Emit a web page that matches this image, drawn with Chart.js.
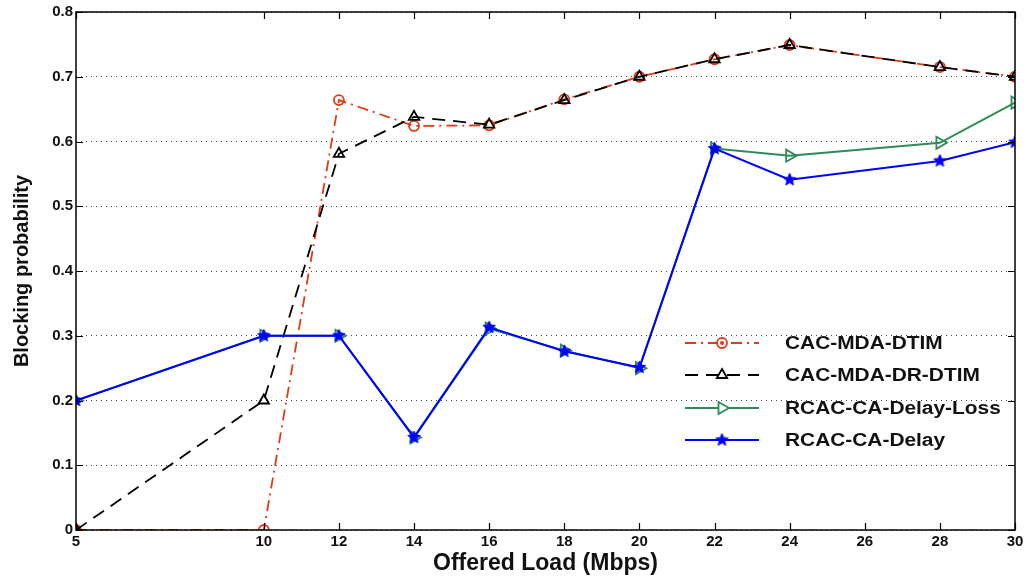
<!DOCTYPE html>
<html>
<head>
<meta charset="utf-8">
<script src="https://cdn.jsdelivr.net/npm/chart.js@4.4.0/dist/chart.umd.min.js"></script>
<style>
  html, body { margin: 0; padding: 0; background: #fff; }
  #wrap { width: 1030px; height: 578px; }
</style>
</head>
<body>
<div id="wrap"><canvas id="blocking-chart"></canvas></div>
<script>
// Blocking probability vs offered load

const offeredLoad   = [5, 10, 12, 14, 16, 18, 20, 22, 24, 28, 30];
const xTickValues   = [5, 10, 12, 14, 16, 18, 20, 22, 24, 26, 28, 30];
const yTickValues   = [0, 0.1, 0.2, 0.3, 0.4, 0.5, 0.6, 0.7, 0.8];

const cacMdaDtim      = [0, 0, 0.664, 0.624, 0.625, 0.665, 0.700, 0.727, 0.749, 0.715, 0.700];
const cacMdaDrDtim    = [0, 0.200, 0.581, 0.638, 0.626, 0.664, 0.700, 0.727, 0.749, 0.715, 0.700];
const rcacDelayLoss   = [0.200, 0.300, 0.300, 0.143, 0.311, 0.277, 0.250, 0.589, 0.578, 0.598, 0.660];
const rcacDelay       = [0.200, 0.300, 0.300, 0.143, 0.313, 0.276, 0.251, 0.589, 0.541, 0.570, 0.599];

const seriesNames = ['CAC-MDA-DTIM', 'CAC-MDA-DR-DTIM', 'RCAC-CA-Delay-Loss', 'RCAC-CA-Delay'];

const RED = '#e03a16', GREEN = '#2e8b57', BLUE = '#0000ff';
const FONT = '"Liberation Sans", Arial, Helvetica, sans-serif';

// filled five-point star for the blue series
function starImage(color, r) {
    const c = document.createElement('canvas');
    const s = Math.ceil(r * 2 + 2);
    c.width = s; c.height = s;
    const g = c.getContext('2d');
    g.beginPath();
    for (let i = 0; i < 10; i++) {
        const rad = i % 2 === 0 ? r : r * 0.45;
        const a = -Math.PI / 2 + i * Math.PI / 5;
        const px = s / 2 + rad * Math.cos(a), py = s / 2 + rad * Math.sin(a);
        if (i === 0) g.moveTo(px, py); else g.lineTo(px, py);
    }
    g.closePath();
    g.fillStyle = color;
    g.fill();
    g.strokeStyle = color;
    g.lineWidth = 1;
    g.stroke();
    return c;
}
const star = starImage(BLUE, 6.5);

const toPoints = arr => arr.map((v, i) => ({ x: offeredLoad[i], y: v }));

const datasets = [
    {
        label: seriesNames[0], data: toPoints(cacMdaDtim),
        borderColor: RED, backgroundColor: 'transparent', borderWidth: 1.8,
        borderDash: [11, 5, 2, 5], pointStyle: 'circle', pointRadius: 5,
        pointBorderWidth: 1.8, pointBorderColor: RED, pointBackgroundColor: 'transparent', order: 4
    },
    {
        label: seriesNames[1], data: toPoints(cacMdaDrDtim),
        borderColor: '#000', backgroundColor: 'transparent', borderWidth: 1.8,
        borderDash: [13, 8], pointStyle: 'triangle', pointRadius: 6,
        pointBorderWidth: 1.8, pointBorderColor: '#000', pointBackgroundColor: 'transparent', order: 3
    },
    {
        label: seriesNames[2], data: toPoints(rcacDelayLoss),
        borderColor: GREEN, backgroundColor: 'transparent', borderWidth: 2,
        pointStyle: 'triangle', rotation: 90, pointRadius: 7,
        pointBorderWidth: 1.8, pointBorderColor: GREEN, pointBackgroundColor: 'transparent', order: 2
    },
    {
        label: seriesNames[3], data: toPoints(rcacDelay),
        borderColor: BLUE, backgroundColor: 'transparent', borderWidth: 2,
        pointStyle: star, pointRadius: 6, order: 1
    }
];

// frame, inner tick marks, and the in-plot legend (matlab style)
const matlabFrame = {
    id: 'matlabFrame',
    afterDraw(chart) {
        const { ctx, chartArea: a, scales: { x, y } } = chart;
        ctx.save();
        ctx.setLineDash([]);
        ctx.strokeStyle = '#000';
        ctx.lineWidth = 1.5;
        ctx.strokeRect(a.left, a.top, a.right - a.left, a.bottom - a.top);
        ctx.lineWidth = 1.2;
        const t = 7;
        ctx.beginPath();
        xTickValues.forEach(v => {
            const px = Math.round(x.getPixelForValue(v)) + 0.5;
            ctx.moveTo(px, a.bottom); ctx.lineTo(px, a.bottom - t);
            ctx.moveTo(px, a.top); ctx.lineTo(px, a.top + t);
        });
        yTickValues.forEach(v => {
            const py = Math.round(y.getPixelForValue(v)) + 0.5;
            ctx.moveTo(a.left, py); ctx.lineTo(a.left + t, py);
            ctx.moveTo(a.right, py); ctx.lineTo(a.right - t, py);
        });
        ctx.stroke();

        // legend
        const lx0 = 685, lx1 = 759, mx = 722, tx = 785;
        const rows = [343, 375, 408, 440];
        ctx.font = 'bold 18px ' + FONT;
        ctx.textBaseline = 'middle';
        ctx.textAlign = 'left';
        datasets.forEach((ds, r) => {
            const yy = rows[r];
            ctx.strokeStyle = ds.borderColor;
            ctx.lineWidth = ds.borderWidth;
            ctx.setLineDash(ds.borderDash || []);
            ctx.beginPath();
            ctx.moveTo(lx0, yy); ctx.lineTo(lx1, yy);
            ctx.stroke();
            ctx.setLineDash([]);
            ctx.lineWidth = ds.pointBorderWidth || 1;
            ctx.strokeStyle = ds.pointBorderColor || ds.borderColor;
            ctx.fillStyle = ds.pointStyle === star ? BLUE : '#fff';
            Chart.helpers.drawPoint(ctx, {
                pointStyle: ds.pointStyle, rotation: ds.rotation || 0,
                radius: ds.pointRadius, borderWidth: ds.pointBorderWidth || 1
            }, mx, yy);
            if (r === 0) {
                ctx.beginPath();
                ctx.arc(mx, yy, 2, 0, Math.PI * 2);
                ctx.fillStyle = RED;
                ctx.fill();
            }
            ctx.save();
            ctx.translate(tx, yy + 1);
            ctx.scale(1.16, 1);
            ctx.fillStyle = '#111';
            ctx.fillText(ds.label, 0, 0);
            ctx.restore();
        });
        ctx.restore();
    }
};

new Chart(document.getElementById('blocking-chart'), {
    type: 'line',
    data: { datasets },
    options: {
        responsive: true,
        maintainAspectRatio: false,
        animation: false,
        layout: { padding: { left: 0, top: 11, right: 15, bottom: 0 } },
        plugins: { legend: { display: false }, tooltip: { enabled: false } },
        elements: { line: { tension: 0 } },
        scales: {
            x: {
                type: 'linear', min: 5, max: 30,
                afterBuildTicks(scale) { scale.ticks = xTickValues.map(v => ({ value: v })); },
                afterFit(scale) { scale.height = 48; },
                grid: { display: false, drawTicks: false },
                border: { display: false },
                ticks: {
                    padding: 3, color: '#111', autoSkip: false, maxRotation: 0,
                    font: { family: FONT, size: 15, weight: 'bold' }
                },
                title: {
                    display: true, text: 'Offered Load (Mbps)', color: '#111',
                    font: { family: FONT, size: 23, weight: 'bold' },
                    padding: { top: 0, bottom: 1 }
                }
            },
            y: {
                type: 'linear', min: 0, max: 0.8,
                afterBuildTicks(scale) { scale.ticks = yTickValues.map(v => ({ value: v })); },
                afterFit(scale) { scale.width = 76; },
                grid: { color: '#444', lineWidth: 1, drawTicks: false },
                border: { display: false, dash: [1, 4] },
                ticks: {
                    padding: 3, color: '#111',
                    font: { family: FONT, size: 15, weight: 'bold' },
                    callback: v => v === 0 ? '0' : v.toFixed(1)
                },
                title: {
                    display: true, text: 'Blocking probability', color: '#111',
                    font: { family: FONT, size: 20, weight: 'bold' },
                    padding: { top: 10, bottom: 0 }
                }
            }
        }
    },
    plugins: [matlabFrame]
});
</script>
</body>
</html>
